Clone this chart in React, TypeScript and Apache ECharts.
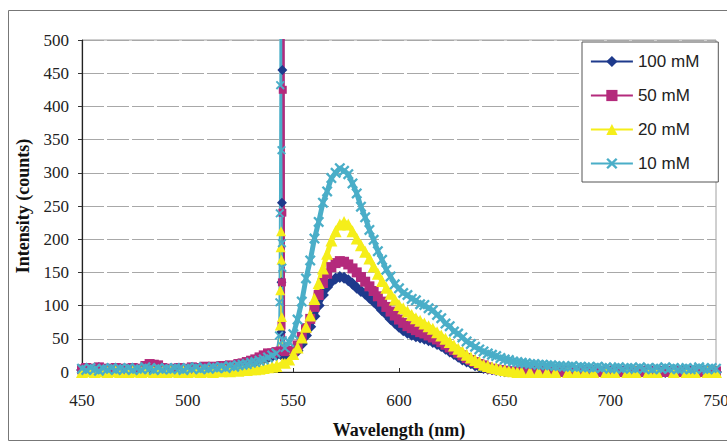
import React, { useEffect, useRef } from "react";
import * as echarts from "echarts";

const WAVELENGTHS = [
  450, 452, 454, 456, 458, 460, 462, 464, 466, 468,
  470, 472, 474, 476, 478, 480, 482, 484, 486, 488,
  490, 492, 494, 496, 498, 500, 502, 504, 506, 508,
  510, 512, 514, 516, 518, 520, 522, 524, 526, 528,
  530, 532, 534, 536, 538, 540, 542, 544, 546, 548,
  550, 552, 554, 556, 558, 560, 562, 564, 566, 568,
  570, 572, 574, 576, 578, 580, 582, 584, 586, 588,
  590, 592, 594, 596, 598, 600, 602, 604, 606, 608,
  610, 612, 614, 616, 618, 620, 622, 624, 626, 628,
  630, 632, 634, 636, 638, 640, 642, 644, 646, 648,
  650, 652, 654, 656, 658, 660, 662, 664, 666, 668,
  670, 672, 674, 676, 678, 680, 682, 684, 686, 688,
  690, 692, 694, 696, 698, 700, 702, 704, 706, 708,
  710, 712, 714, 716, 718, 720, 722, 724, 726, 728,
  730, 732, 734, 736, 738, 740, 742, 744, 746, 748,
  750,
];

const I100 = [
  3, 5, 2, 4, 6, 3, 4, 2, 5, 3,
  4, 2, 5, 3, 4, 6, 5, 4, 3, 5,
  3, 4, 2, 5, 4, 3, 6, 4, 5, 6,
  5, 6, 7, 6, 8, 7, 9, 10, 11, 12,
  14, 16, 18, 20, 22, 24, 26, 27, 25, 26,
  27, 32, 42, 55, 68, 84, 100, 116, 128, 136,
  141, 143, 142, 138, 133, 127, 122, 118, 112, 106,
  100, 93, 87, 80, 74, 68, 63, 59, 56, 54,
  52, 50, 48, 45, 42, 39, 35, 31, 27, 23,
  19, 16, 13, 10, 8, 6, 5, 4, 3, 2,
  1, 1, 0, 1, 0, 0, 1, 0, 0, 0,
  0, 0, 1, 0, 0, 0, 1, 0, 0, 1,
  0, 1, 0, 0, 0, 1, 0, 0, 1, 0,
  0, 0, 0, 1, 0, 0, 1, 0, 0, 0,
  1, 0, 0, 0, 1, 0, 0, 1, 0, 0,
  0,
];

const I50 = [
  4, 6, 3, 5, 7, 4, 5, 3, 6, 4,
  5, 3, 6, 4, 5, 9, 12, 11, 10, 6,
  4, 5, 3, 6, 5, 4, 7, 5, 6, 8,
  6, 8, 7, 9, 8, 10, 9, 12, 13, 15,
  17, 19, 22, 25, 28, 28, 30, 31, 30, 31,
  32, 40, 53, 66, 80, 98, 116, 134, 148, 158,
  164, 167, 166, 162, 156, 150, 143, 136, 129, 122,
  114, 106, 98, 91, 85, 79, 74, 69, 66, 63,
  60, 58, 55, 52, 49, 45, 41, 37, 33, 29,
  25, 21, 18, 15, 12, 10, 7, 5, 4, 3,
  2, 1, 1, 0, 1, 0, 0, 1, 0, 0,
  1, 0, 0, 1, 0, 1, 0, 0, 1, 0,
  0, 1, 0, 0, 1, 0, 1, 0, 0, 1,
  0, 0, 1, 0, 1, 0, 0, 1, 0, 0,
  1, 0, 0, 1, 0, 0, 1, 0, 1, 0,
  1,
];

const I20 = [
  0, -1, 1, 0, -2, 1, 0, -1, 1, 0,
  -1, 0, 1, -1, 0, 1, -1, 0, 1, 0,
  0, 1, -1, 0, 1, 0, -1, 1, 0, 1,
  1, 0, 2, 1, 2, 1, 3, 2, 3, 3,
  4, 4, 5, 6, 7, 8, 9, 10, 14, 19,
  27, 37, 52, 68, 85, 110, 134, 156, 178, 198,
  212, 222, 226, 222, 212, 201, 191, 181, 171, 159,
  148, 137, 127, 118, 109, 101, 96, 91, 86, 81,
  77, 73, 69, 65, 60, 55, 50, 45, 40, 35,
  31, 26, 22, 18, 15, 11, 9, 7, 6, 4,
  3, 2, 1, 0, 0, -1, 0, -1, 0, -1,
  0, -1, 0, -2, -1, 0, -1, 0, -1, 0,
  -1, 0, -2, -1, 0, -1, 0, -2, -1, 0,
  -1, 0, -1, -2, 0, -1, 0, -1, -2, -1,
  0, -1, -2, 0, -1, 0, -1, -2, 0, -1,
  0,
];

const I10 = [
  5, 3, 6, 4, 2, 5, 4, 6, 3, 5,
  4, 6, 3, 5, 4, 7, 5, 3, 6, 4,
  5, 4, 6, 5, 3, 6, 5, 7, 4, 6,
  5, 7, 6, 8, 6, 9, 8, 10, 11, 12,
  14, 15, 17, 19, 22, 25, 28, 30, 36, 45,
  57, 79, 106, 141, 168, 201, 226, 255, 272, 292,
  300, 307, 303, 298, 284, 269, 249, 233, 214, 199,
  182, 169, 154, 144, 132, 126, 119, 116, 110, 108,
  102, 101, 96, 93, 86, 81, 73, 69, 61, 58,
  52, 46, 42, 38, 34, 31, 28, 26, 24, 21,
  19, 18, 16, 15, 14, 13, 12, 12, 11, 11,
  10, 10, 9, 9, 8, 8, 9, 7, 8, 7,
  7, 6, 8, 6, 7, 5, 6, 7, 5, 6,
  6, 5, 7, 5, 6, 4, 6, 5, 7, 5,
  6, 4, 5, 6, 4, 5, 7, 5, 4, 6,
  5,
];

// Excitation-line spike samples (values above 500 run off the plot)
const SPIKE_WL_100 = [544.2, 544.4, 544.6, 544.8, 545.0, 545.2, 545.5];
const SPIKE_100 = [60, 135, 255, 455, 1500, 700, 28];
const SPIKE_WL_50 = [544.4, 544.6, 544.8, 545.0, 545.2, 545.4, 545.7];
const SPIKE_50 = [70, 135, 240, 425, 1500, 700, 32];
const SPIKE_WL_20 = [543.6, 543.8, 544.0, 544.2, 544.4, 544.6, 544.8];
const SPIKE_20 = [70, 123, 188, 212, 169, 83, 14];
const SPIKE_WL_10 = [543.2, 543.4, 543.6, 543.8, 544.0, 544.4, 544.6, 544.8, 545.0];
const SPIKE_10 = [55, 105, 239, 432, 1500, 334, 194, 157, 48];

const SERIES_NAMES = ["100 mM", "50 mM", "20 mM", "10 mM"];
const X_TICK_LABELS = [450, 500, 550, 600, 650, 700, 750];
const Y_TICK_LABELS = [0, 50, 100, 150, 200, 250, 300, 350, 400, 450, 500];

function buildMain(values: number[], spikeWl: number[]) {
  const lo = Math.min(...spikeWl);
  const hi = Math.max(...spikeWl);
  const pts: number[][] = [];
  WAVELENGTHS.forEach((w, i) => {
    if (w < lo || w > hi) pts.push([w, values[i]]);
  });
  return pts;
}

function buildSpike(values: number[], spikeWl: number[], spikeVals: number[]) {
  const lo = Math.min(...spikeWl);
  const hi = Math.max(...spikeWl);
  let before = 0;
  let after = WAVELENGTHS.length - 1;
  WAVELENGTHS.forEach((w, i) => {
    if (w < lo) before = i;
  });
  for (let i = WAVELENGTHS.length - 1; i >= 0; i--) {
    if (WAVELENGTHS[i] > hi) after = i;
  }
  const pts: number[][] = [[WAVELENGTHS[before], values[before]]];
  spikeWl.forEach((w, i) => pts.push([w, spikeVals[i]]));
  pts.push([WAVELENGTHS[after], values[after]]);
  return pts;
}

const CROSS =
  "path://M1.5,0 L5,3.5 L8.5,0 L10,1.5 L6.5,5 L10,8.5 L8.5,10 L5,6.5 L1.5,10 L0,8.5 L3.5,5 L0,1.5 Z";

export default function App() {
  const ref = useRef<HTMLDivElement>(null);

  useEffect(() => {
    document.body.style.margin = "0";
    if (!ref.current) return;
    const chart = echarts.init(ref.current, null, { renderer: "svg" });
    const sans = '"Liberation Sans", Arial, sans-serif';
    const tickFont = 'normal 400 17px "Liberation Serif", "Times New Roman", serif';
    const titleFont = 'bold 18px "Liberation Serif", "Times New Roman", serif';

    const defs = [
      { name: SERIES_NAMES[0], vals: I100, swl: SPIKE_WL_100, sv: SPIKE_100, color: "#1E3A8C", symbol: "diamond", size: 12 },
      { name: SERIES_NAMES[1], vals: I50, swl: SPIKE_WL_50, sv: SPIKE_50, color: "#B42A7C", symbol: "rect", size: 10 },
      { name: SERIES_NAMES[2], vals: I20, swl: SPIKE_WL_20, sv: SPIKE_20, color: "#F5EE1A", symbol: "triangle", size: 12 },
      { name: SERIES_NAMES[3], vals: I10, swl: SPIKE_WL_10, sv: SPIKE_10, color: "#4AAEC8", symbol: CROSS, size: 11 },
    ];

    const mainSeries = defs.map((d) => ({
      name: d.name,
      type: "line",
      data: buildMain(d.vals, d.swl),
      symbol: d.symbol,
      symbolSize: d.size,
      showSymbol: true,
      clip: true,
      lineStyle: { color: d.color, width: 5 },
      itemStyle: { color: d.color, borderWidth: 0 },
      emphasis: { disabled: true },
    }));

    const spikeSeries = defs.map((d) => ({
      name: d.name,
      type: "line",
      data: buildSpike(d.vals, d.swl, d.sv),
      symbol: d.symbol,
      symbolSize: d.size - 2,
      showSymbol: true,
      clip: true,
      lineStyle: { color: d.color, width: 1.8 },
      itemStyle: { color: d.color, borderWidth: 0 },
      emphasis: { disabled: true },
    }));

    const staticGraphics = [
      {
        type: "rect",
        silent: true,
        z: -10,
        shape: { x: 8.5, y: 10.5, width: 730, height: 430 },
        style: { fill: "none", stroke: "#777777", lineWidth: 1 },
      },
      {
        type: "text",
        x: 23,
        y: 206,
        rotation: Math.PI / 2,
        style: {
          text: "Intensity (counts)",
          font: titleFont,
          fill: "#111111",
          align: "center",
          verticalAlign: "middle",
          textAlign: "center",
          textVerticalAlign: "middle",
        },
      },
      {
        type: "text",
        x: 399,
        y: 430,
        style: {
          text: "Wavelength (nm)",
          font: titleFont,
          fill: "#111111",
          align: "center",
          verticalAlign: "middle",
          textAlign: "center",
          textVerticalAlign: "middle",
        },
      },
    ];

    chart.setOption({
      animation: false,
      backgroundColor: "#ffffff",
      grid: {
        left: 82,
        top: 40,
        width: 634,
        height: 332,
        show: true,
        borderColor: "#a0a0a0",
        borderWidth: 1,
        backgroundColor: "transparent",
      },
      legend: {
        orient: "vertical",
        left: 582,
        top: 42,
        data: SERIES_NAMES,
        itemWidth: 42,
        itemHeight: 14,
        itemGap: 17,
        padding: [11, 19, 10, 8],
        backgroundColor: "#ffffff",
        borderColor: "#555555",
        borderWidth: 1,
        selectedMode: false,
        itemStyle: { borderWidth: 0 },
        lineStyle: { width: 1.8 },
        textStyle: { fontFamily: sans, fontSize: 17, color: "#222222" },
      },
      xAxis: {
        type: "value",
        min: X_TICK_LABELS[0],
        max: X_TICK_LABELS[X_TICK_LABELS.length - 1],
        interval: X_TICK_LABELS[1] - X_TICK_LABELS[0],
        axisLine: { show: true, onZero: false, lineStyle: { color: "#222222", width: 1.2 } },
        axisTick: { show: true, inside: true, length: 4, lineStyle: { color: "#333333" } },
        axisLabel: { show: false },
        splitLine: { show: false },
      },
      yAxis: {
        type: "value",
        min: Y_TICK_LABELS[0],
        max: Y_TICK_LABELS[Y_TICK_LABELS.length - 1],
        interval: Y_TICK_LABELS[1] - Y_TICK_LABELS[0],
        axisLine: { show: true, lineStyle: { color: "#222222", width: 1.2 } },
        axisTick: { show: true, inside: false, length: 4, lineStyle: { color: "#333333" } },
        axisLabel: { show: false },
        splitLine: { show: true, lineStyle: { color: "#a8a8a8", width: 1, type: [22, 3] } },
      },
      series: [...mainSeries, ...spikeSeries],
      graphic: staticGraphics,
    });

    const tickTexts: any[] = [];
    X_TICK_LABELS.forEach((v) => {
      const p = chart.convertToPixel({ gridIndex: 0 }, [v, Y_TICK_LABELS[0]]) as number[];
      tickTexts.push({
        type: "text",
        x: p[0],
        y: p[1] + 28,
        style: {
          text: String(v),
          font: tickFont,
          fill: "#222222",
          align: "center",
          verticalAlign: "middle",
          textAlign: "center",
          textVerticalAlign: "middle",
        },
      });
    });
    Y_TICK_LABELS.forEach((v) => {
      const p = chart.convertToPixel({ gridIndex: 0 }, [X_TICK_LABELS[0], v]) as number[];
      tickTexts.push({
        type: "text",
        x: p[0] - 13,
        y: p[1],
        style: {
          text: String(v),
          font: tickFont,
          fill: "#222222",
          align: "right",
          verticalAlign: "middle",
          textAlign: "right",
          textVerticalAlign: "middle",
        },
      });
    });

    chart.setOption({ graphic: [...staticGraphics, ...tickTexts] });

    return () => chart.dispose();
  }, []);

  return <div ref={ref} style={{ width: 727, height: 443 }} />;
}
